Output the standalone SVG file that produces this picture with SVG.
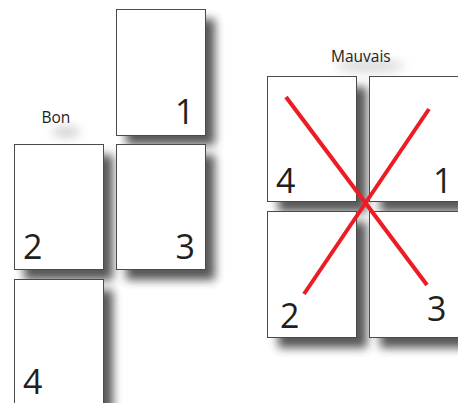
<svg xmlns="http://www.w3.org/2000/svg" width="458" height="403" viewBox="0 0 458 403">
  <defs>
    <filter id="blur" x="-30%" y="-30%" width="160%" height="160%">
      <feGaussianBlur stdDeviation="5"/>
    </filter>
    <filter id="blurSoft" x="-50%" y="-50%" width="200%" height="200%">
      <feGaussianBlur stdDeviation="5"/>
    </filter>
    <style>
      .page { fill: #ffffff; stroke: #4a4a4a; stroke-width: 1; }
      .shadow { fill: #3a3a3a; opacity: 0.85; filter: url(#blur); }
      .num { font-family: "Open Sans", "Noto Sans", sans-serif; font-size: 34px; fill: #231f20; }
      .label { font-family: "Open Sans", "Noto Sans", sans-serif; font-size: 15.5px; fill: #231f20; }
      .cross { stroke: #ed1c24; stroke-width: 4; fill: none; }
    </style>
  </defs>
  <rect width="458" height="403" fill="#ffffff"/>

  <!-- shadows -->
  <g id="shadows">
    <ellipse cx="66" cy="132" rx="14" ry="6" fill="#888" opacity="0.35" filter="url(#blurSoft)"/>
    <ellipse cx="370" cy="66" rx="34" ry="8" fill="#888" opacity="0.25" filter="url(#blurSoft)"/>
    <rect class="shadow" x="126" y="19" width="89" height="126"/>
    <rect class="shadow" x="24" y="155" width="89" height="125"/>
    <rect class="shadow" x="126" y="155" width="89" height="125"/>
    <rect class="shadow" x="24" y="290" width="89" height="126"/>
    <rect class="shadow" x="278" y="87" width="89" height="125"/>
    <rect class="shadow" x="380" y="87" width="89" height="125"/>
    <rect class="shadow" x="278" y="222" width="89" height="126"/>
    <rect class="shadow" x="380" y="222" width="89" height="126"/>
  </g>

  <!-- Bon -->
  <g id="label-bon">
    <text class="label" x="41.5" y="123">Bon</text>
  </g>
  <g id="bon-page-1">
    <rect class="page" x="116.5" y="9.5" width="89" height="126"/>
    <text class="num" x="175" y="124">1</text>
  </g>
  <g id="bon-page-2">
    <rect class="page" x="14.5" y="144.5" width="89" height="125"/>
    <text class="num" x="23" y="259">2</text>
  </g>
  <g id="bon-page-3">
    <rect class="page" x="116.5" y="144.5" width="89" height="125"/>
    <text class="num" x="175.5" y="259">3</text>
  </g>
  <g id="bon-page-4">
    <rect class="page" x="14.5" y="279.5" width="89" height="126"/>
    <text class="num" x="23" y="394">4</text>
  </g>

  <!-- Mauvais -->
  <g id="label-mauvais">
    <text class="label" x="331" y="62">Mauvais</text>
  </g>
  <g id="mauvais-page-4">
    <rect class="page" x="267.5" y="76.5" width="89" height="125"/>
    <text class="num" x="276" y="193">4</text>
  </g>
  <g id="mauvais-page-1">
    <rect class="page" x="369.5" y="76.5" width="89" height="125"/>
    <text class="num" x="433" y="193">1</text>
  </g>
  <g id="mauvais-page-2">
    <rect class="page" x="267.5" y="211.5" width="89" height="126"/>
    <text class="num" x="280" y="328">2</text>
  </g>
  <g id="mauvais-page-3">
    <rect class="page" x="369.5" y="211.5" width="89" height="126"/>
    <text class="num" x="427" y="321">3</text>
  </g>

  <g id="connectors">
    <line class="cross" x1="286" y1="97" x2="427" y2="285"/>
    <line class="cross" x1="429" y1="109" x2="304" y2="294"/>
  </g>
</svg>
